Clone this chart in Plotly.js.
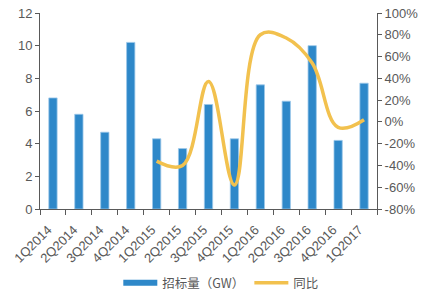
<!DOCTYPE html>
<html><head><meta charset="utf-8">
<script src="https://cdn.plot.ly/plotly-3.0.1.min.js"></script>
<style>html,body{margin:0;padding:0;background:#fff}#c{width:439px;height:297px}</style>
</head><body><div id="c"></div>
<script>
const categories = ['1Q2014','2Q2014','3Q2014','4Q2014','1Q2015','2Q2015','3Q2015','4Q2015','1Q2016','2Q2016','3Q2016','4Q2016','1Q2017'];
const bidVolume = [6.8, 5.8, 4.7, 10.2, 4.3, 3.7, 6.4, 4.3, 7.6, 6.6, 10.0, 4.2, 7.7];
const yoy = [null, null, null, null, -0.36, -0.40, 0.37, -0.58, 0.80, 0.77, 0.54, -0.05, 0.02];
const barName = '招标量（GW）';
const lineName = '同比';
const leftTicks = [0, 2, 4, 6, 8, 10, 12];
const rightTicks = [-0.8, -0.6, -0.4, -0.2, 0, 0.2, 0.4, 0.6, 0.8, 1.0];

const blue = '#2E88C9';
const yellow = '#F2C14E';
const tickFont = {family: 'Liberation Sans, Arial, sans-serif', size: 13, color: '#595959'};

const traces = [
  {type: 'bar', x: categories, y: bidVolume, name: barName, showlegend: false,
   marker: {color: blue, line: {color: '#9CC8EA', width: 0.8}}, yaxis: 'y'},
  {type: 'scatter', mode: 'lines', x: [null], y: [null], name: barName, showlegend: true,
   line: {color: blue, width: 6}, hoverinfo: 'skip'},
  {type: 'scatter', mode: 'lines', x: categories, y: yoy, name: lineName, yaxis: 'y2',
   line: {color: yellow, width: 3.5, shape: 'spline', smoothing: 1.1}, connectgaps: false}
];

const layout = {
  width: 439, height: 297,
  margin: {l: 40, r: 62, t: 13, b: 88, autoexpand: false},
  paper_bgcolor: '#fff', plot_bgcolor: '#fff',
  bargap: 0.68,
  showlegend: true,
  legend: {orientation: 'h', xref: 'paper', yref: 'container', x: 0.538, xanchor: 'center',
           y: 0.047, yanchor: 'middle',
           font: {family: 'Noto Sans CJK SC, sans-serif', size: 12.5, color: '#595959'},
           itemwidth: 34, tracegroupgap: 0},
  xaxis: {type: 'category', automargin: false, showline: true, linecolor: '#595959', linewidth: 1.2,
          ticks: 'outside', tickson: 'boundaries', ticklen: 5, tickcolor: '#595959',
          tickangle: -45, tickfont: tickFont, ticklabelstandoff: 7, ticklabelshift: -5,
          showgrid: false, zeroline: false},
  yaxis: {range: [0, 12], automargin: false, tickvals: leftTicks, ticktext: leftTicks.map(String),
          showline: true, linecolor: '#595959', linewidth: 1, ticks: 'outside', ticklen: 4,
          tickcolor: '#595959', tickfont: tickFont, showgrid: false, zeroline: false},
  yaxis2: {range: [-0.8, 1.0], automargin: false, overlaying: 'y', side: 'right', tickvals: rightTicks,
           ticktext: rightTicks.map(v => Math.round(v * 100) + '%'),
           showline: true, linecolor: '#595959', linewidth: 1, ticks: 'outside', ticklen: 4,
           tickcolor: '#595959', tickfont: tickFont, showgrid: false, zeroline: false}
};

Plotly.newPlot('c', traces, layout, {staticPlot: true, displayModeBar: false});
</script></body></html>
